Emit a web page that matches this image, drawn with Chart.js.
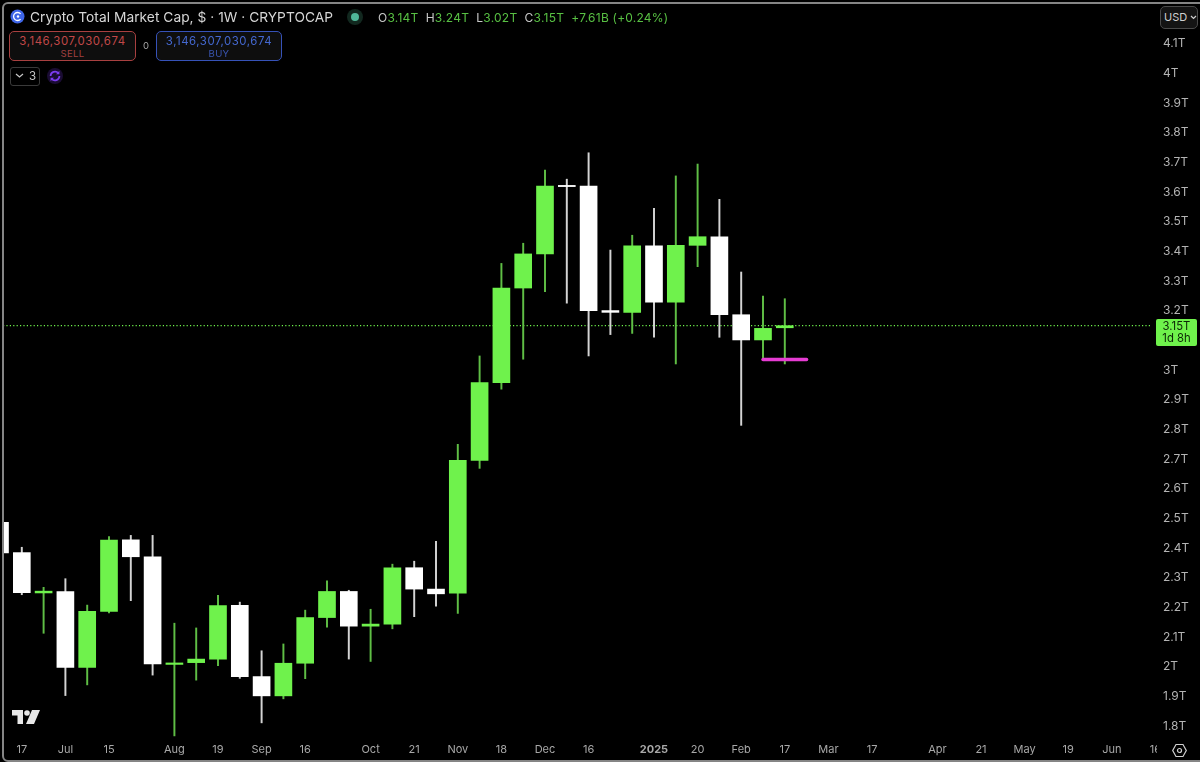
<!DOCTYPE html>
<html><head><meta charset="utf-8">
<script src="https://cdn.jsdelivr.net/npm/chart.js@4/dist/chart.umd.min.js"></script>
<style>
html,body{margin:0;padding:0;background:#000;width:1200px;height:762px;overflow:hidden;font-family:Inter,Roboto,sans-serif}
#wrap{position:relative;width:1200px;height:762px;background:#000;overflow:hidden}
canvas{position:absolute;left:0;top:0}
.o{position:absolute;white-space:nowrap}
#frame{left:1.5px;top:1.5px;width:1210px;height:756px;border:2px solid #858585;border-radius:6px;pointer-events:none}
#title{left:30px;top:9px;font-size:13.75px;line-height:17px;color:#d6d6d6;letter-spacing:.03px}
#ohlc{left:378px;top:10px;font-size:12px;line-height:15px;color:#c8c8c8;letter-spacing:.22px}
#ohlc b{font-weight:400;color:#58c043}
.tb{box-sizing:border-box;top:31px;height:30px;border-radius:5px;background:#0e0e0e;text-align:center;font-size:11.4px;line-height:13px;padding-top:3px;letter-spacing:.55px}
.tb small{display:block;font-size:9.6px;line-height:11px;letter-spacing:.3px}
#sell{left:9px;width:127px;border:1.2px solid #a84040;color:#c04848}
#sell small{color:#a04040}
#buy{left:156px;width:126px;border:1.2px solid #3652b8;color:#4468d0}
#buy small{color:#3a55b0}
#zero{left:143px;top:40px;font-size:9.5px;color:#a8a8a8}
#cnt{left:10px;top:67px;box-sizing:border-box;width:30px;height:19px;border:1px solid #3a3a3a;border-radius:3px;color:#c8c8c8;font-size:11.5px;line-height:17px;padding-left:18px}
#usd{left:1160px;top:6px;box-sizing:border-box;width:38px;height:23px;border:1px solid #4a4a4a;border-radius:5px;background:#141414;color:#d0d0d0;font-size:11px;line-height:21px;padding-left:3px}
#price{left:1156px;box-sizing:border-box;width:41px;height:27px;background:#6ff24c;border-radius:2px;color:#0c2606;font-size:11.3px;line-height:12.4px;text-align:center;padding-top:1px}
#corner{left:1157px;top:738px;width:43px;height:20px;background:#000}
</style></head>
<body>
<div id="wrap">
<canvas id="c" width="1200" height="762"></canvas>
<div class="o" id="frame"></div>
<svg class="o" style="left:10px;top:9px" width="15" height="15" viewBox="0 0 15 15"><circle cx="7.5" cy="7.5" r="7" fill="#3f66e8"/><path d="M10.6 4.9a4 4 0 1 0 0 5.2" fill="none" stroke="#fff" stroke-width="1.3"/><circle cx="8" cy="7.5" r="1.2" fill="#fff"/></svg>
<div class="o" id="title">Crypto Total Market Cap, $ · 1W · CRYPTOCAP</div>
<svg class="o" style="left:346px;top:8px" width="18" height="18"><circle cx="9" cy="9" r="8" fill="#12281f"/><circle cx="9" cy="9" r="4" fill="#4fb899"/></svg>
<div class="o" id="ohlc">O<b>3.14T</b>&nbsp; H<b>3.24T</b>&nbsp; L<b>3.02T</b>&nbsp; C<b>3.15T</b>&nbsp; <b>+7.61B</b>&nbsp;<b>(+0.24%)</b></div>
<div class="o tb" id="sell">3,146,307,030,674<small>SELL</small></div>
<div class="o" id="zero">0</div>
<div class="o tb" id="buy">3,146,307,030,674<small>BUY</small></div>
<div class="o" id="cnt">3</div>
<svg class="o" style="left:15px;top:73px" width="9" height="6"><path d="M1 1l3.5 3L8 1" fill="none" stroke="#c8c8c8" stroke-width="1.2"/></svg>
<svg class="o" style="left:47px;top:68px" width="16" height="16" viewBox="0 0 16 16"><circle cx="8" cy="8" r="8" fill="#1a0c33"/><path d="M3.6 8a4.4 4.4 0 0 1 7.8-2.8M12.4 8a4.4 4.4 0 0 1-7.8 2.8" fill="none" stroke="#7c3cf0" stroke-width="1.7"/><path d="M12.4 2.8v3.4H9zM3.6 13.2V9.8H7z" fill="#7c3cf0"/></svg>
<div class="o" id="usd">USD <svg width="7" height="5" style="vertical-align:1px"><path d="M1 1l2.5 2.5L6 1" fill="none" stroke="#d0d0d0" stroke-width="1.2"/></svg></div>
<svg class="o" style="left:12px;top:710px" width="28" height="14" viewBox="0 0 28 14"><path d="M0 0h11v14H5.5V5.5H0z M20 0h8l-6 14h-8z" fill="#e8e8e8"/><circle cx="15" cy="3" r="2.8" fill="#e8e8e8"/></svg>
<div class="o" id="corner"></div>
<svg class="o" style="left:1172px;top:743px" width="15" height="15" viewBox="0 0 15 15"><path d="M4 1.5h7l3.3 6-3.3 6H4l-3.3-6z" fill="none" stroke="#d0d0d0" stroke-width="1.2"/><circle cx="7.5" cy="7.5" r="2" fill="none" stroke="#d0d0d0" stroke-width="1.2"/></svg>
<div class="o" id="price">3.15T<br>1d 8h</div>
</div>
<script>
// Weekly candles, index 0 = week of 10 Jun 2024. Values in trillions of USD.
const opens  = [2.483,2.381,2.245,2.250,1.994,2.183,2.424,2.367,2.004,2.010,2.022,2.203,1.963,1.898,2.008,2.162,2.250,2.133,2.140,2.330,2.258,2.244,2.692,2.954,3.273,3.388,3.619,3.617,3.197,3.191,3.415,3.225,3.417,3.446,3.183,3.098,3.139];
const closes = [2.380,2.246,2.251,1.994,2.183,2.423,2.367,2.006,2.009,2.022,2.202,1.963,1.898,2.008,2.162,2.250,2.133,2.140,2.330,2.258,2.242,2.692,2.954,3.273,3.388,3.617,3.615,3.197,3.191,3.415,3.225,3.417,3.446,3.183,3.098,3.137,3.146];
const highs  = [2.483,2.399,2.264,2.293,2.204,2.435,2.439,2.439,2.143,2.127,2.237,2.214,2.050,2.073,2.187,2.286,2.254,2.190,2.342,2.352,2.419,2.746,3.044,3.356,3.424,3.671,3.640,3.729,3.401,3.451,3.542,3.651,3.691,3.572,3.327,3.246,3.237];
const lows   = [2.380,2.239,2.109,1.899,1.935,2.178,2.219,1.968,1.763,1.951,2.000,1.957,1.807,1.888,1.956,2.130,2.022,2.014,2.124,2.165,2.200,2.176,2.665,2.932,3.033,3.261,3.222,3.044,3.116,3.120,3.107,3.017,3.345,3.107,2.810,3.030,3.017];
const priceTicks = [4.1,4,3.9,3.8,3.7,3.6,3.5,3.4,3.3,3.2,3,2.9,2.8,2.7,2.6,2.5,2.4,2.3,2.2,2.1,2,1.9,1.8];
const timeTickWeeks  = [1,3,5,8,10,12,14,17,19,21,23,25,27,30,32,34,36,38,40,43,45,47,49,51,53];
const timeTickLabels = ["17","Jul","15","Aug","19","Sep","16","Oct","21","Nov","18","Dec","16","2025","20","Feb","17","Mar","17","Apr","21","May","19","Jun","16"];
const levelWeeks = [35,37];
const levelPrice = 3.032;
const weekRange = [0.1376,52.844];
const priceRange = [1.7593,4.1497];

const GREEN='#6ff24c', GREENW='#5fbe45', WHITE='#ffffff', WHITEW='#d4d4d4', PINK='#e63cd2';
const up = closes.map((c,i)=>c>=opens[i]);
const lastClose = closes[closes.length-1];

new Chart(document.getElementById('c'),{
  type:'bar',
  data:{datasets:[
    {type:'line',order:5,data:[{x:weekRange[0],y:lastClose},{x:weekRange[1],y:lastClose}],borderColor:GREEN,borderWidth:1.2,borderDash:[1.2,2.2],pointRadius:0,tension:0},
    {order:4,grouped:false,barThickness:1.3,borderWidth:0,data:lows.map((l,i)=>({x:i,y:[l,highs[i]]})),backgroundColor:up.map(u=>u?GREENW:WHITEW)},
    {order:3,grouped:false,barThickness:17,borderWidth:0,data:opens.map((o,i)=>({x:i,y:[o,closes[i]]})),backgroundColor:up.map(u=>u?GREEN:WHITE)},
    {type:'line',order:1,data:levelWeeks.map(w=>({x:w,y:levelPrice})),borderColor:PINK,borderWidth:3.4,borderCapStyle:'round',pointRadius:0,tension:0}
  ]},
  options:{
    responsive:false,animation:false,
    layout:{padding:{left:3,top:28,right:0,bottom:0}},
    plugins:{legend:{display:false},tooltip:{enabled:false}},
    scales:{
      x:{type:'linear',offset:false,min:weekRange[0],max:weekRange[1],grid:{display:false,drawTicks:false},border:{display:false},
        afterBuildTicks:s=>{s.ticks=timeTickWeeks.map(v=>({value:v}))},
        afterFit:s=>{s.height=25;s.paddingLeft=0;s.paddingRight=0},
        afterTickToLabelConversion:s=>{s.ticks.forEach((t,i)=>{t.label=timeTickLabels[i]})},
        ticks:{autoSkip:false,maxRotation:0,minRotation:0,padding:6,color:'#a8a8a8',
          font:c=>c.tick&&c.tick.label==='2025'?{family:'Inter',size:11,weight:'700'}:{family:'Inter',size:11}}},
      y:{type:'linear',position:'right',min:priceRange[0],max:priceRange[1],grid:{display:false,drawTicks:false},border:{display:false},
        afterBuildTicks:s=>{s.ticks=priceTicks.map(v=>({value:v}))},
        afterFit:s=>{s.width=48;s.paddingTop=0;s.paddingBottom=0},
        ticks:{autoSkip:false,padding:11,labelOffset:1,color:'#b4b4b4',font:{family:'Inter',size:12},
          callback:v=>(+v.toFixed(1))+'T'}}
    }
  },
  plugins:[{id:'lastPriceBox',afterDraw(ch){
    const el=document.getElementById('price');
    el.style.top=(ch.scales.y.getPixelForValue(lastClose)-7)+'px';
  }}]
});
</script>
</body></html>
